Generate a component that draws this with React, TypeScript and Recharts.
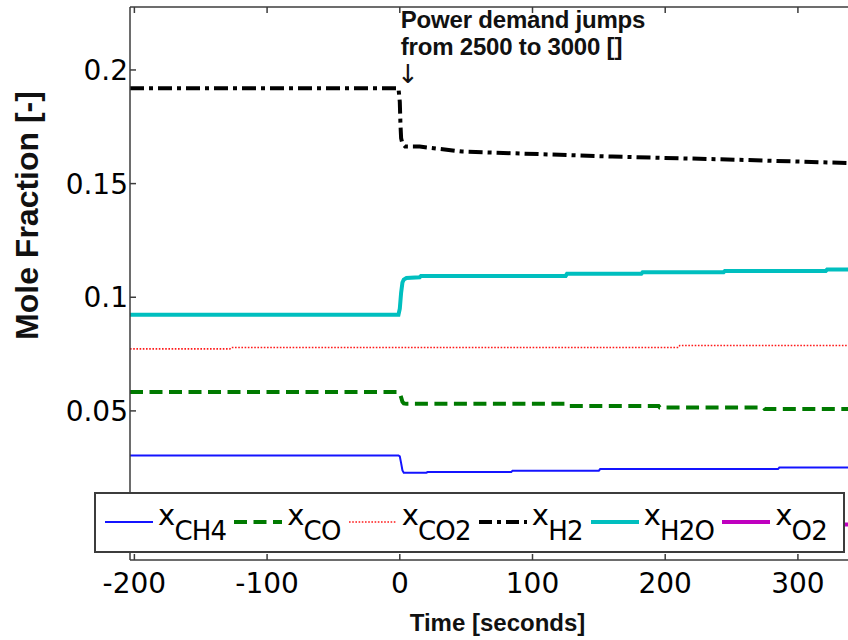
import React from 'react';
import { LineChart, Line, XAxis, YAxis, ReferenceLine, Legend } from 'recharts';

// ---------- data ----------
const ch4T = [-203.3, -1, 0, 1, 2, 3, 20, 21, 84, 85, 150, 151, 285, 286, 340];
const ch4V = [0.0304, 0.0304, 0.03, 0.027, 0.0238, 0.0228, 0.0228, 0.0231, 0.0231, 0.0237, 0.0237, 0.0244, 0.0244, 0.0251, 0.0251];

const coT = [-203.3, -1, 0, 1, 2, 3, 5, 125, 126, 195, 196, 274, 275, 340];
const coV = [0.0583, 0.0583, 0.0578, 0.056, 0.054, 0.0533, 0.0531, 0.0531, 0.0522, 0.0522, 0.0515, 0.0515, 0.0508, 0.0508];

const co2T = [-203.3, -128, -127, 210, 211, 340];
const co2V = [0.0773, 0.0773, 0.0779, 0.0779, 0.0788, 0.0788];

const h2T = [-203.3, -1, 0, 0.5, 1, 2, 4, 15, 47, 160, 260, 340];
const h2V = [0.192, 0.192, 0.186, 0.176, 0.17, 0.1675, 0.1663, 0.1663, 0.1641, 0.1619, 0.1604, 0.159];

const h2oT = [-203.3, -1, 0, 1, 2, 3, 5, 15, 16, 125, 126, 182, 183, 244, 245, 321, 322, 340];
const h2oV = [0.0923, 0.0923, 0.095, 0.102, 0.1065, 0.1078, 0.1085, 0.1088, 0.1094, 0.1094, 0.1103, 0.1103, 0.111, 0.111, 0.1116, 0.1116, 0.1122, 0.1122];

const o2T = [-203.3, 340];
const o2V = [0, 0];

const xTicks = [-200, -100, 0, 100, 200, 300];
const yTicks = [0.05, 0.1, 0.15, 0.2];
const xDomain = [-203.3, 340];
const yDomain = [-0.0156, 0.2277];
const annotationLines = ['Power demand jumps', 'from 2500 to 3000 []'];
const annotationX = 0;
const xLabel = 'Time [seconds]';
const yLabel = 'Mole Fraction [-]';

const toPts = (t: number[], v: number[]) => t.map((x, i) => ({ t: x, v: v[i] }));

type S = { key: string; sub: string; data: { t: number; v: number }[]; color: string; width: number; dash?: string; legendDash?: string };

const series: S[] = [
  { key: 'CH4', sub: 'CH4', data: toPts(ch4T, ch4V), color: '#1414ff', width: 2 },
  { key: 'CO', sub: 'CO', data: toPts(coT, coV), color: '#007a00', width: 4, dash: '13 6.5', legendDash: '13 6.5' },
  { key: 'CO2', sub: 'CO2', data: toPts(co2T, co2V), color: '#ff1a1a', width: 1.6, dash: '1.6 1.6', legendDash: '1.6 1.6' },
  { key: 'H2', sub: 'H2', data: toPts(h2T, h2V), color: '#000000', width: 4, dash: '14 5 4 5', legendDash: '13 5 4 5' },
  { key: 'H2O', sub: 'H2O', data: toPts(h2oT, h2oV), color: '#00bfbf', width: 4 },
  { key: 'O2', sub: 'O2', data: toPts(o2T, o2V), color: '#bf00bf', width: 4 },
];

const axisColor = '#3c3c3c';
const tickFont = { fontFamily: 'DejaVu Sans, sans-serif', fontSize: 28, fill: '#000' };

const LegendBox = () => (
  <div
    style={{
      width: 751,
      height: 61,
      boxSizing: 'border-box',
      border: `2px solid ${axisColor}`,
      background: '#fff',
      display: 'flex',
      alignItems: 'flex-start',
      paddingLeft: 9,
      overflow: 'hidden',
      whiteSpace: 'nowrap',
    }}
  >
    {series.map((s) => (
      <div key={s.key} style={{ display: 'flex', alignItems: 'flex-start', marginRight: 8, flex: 'none' }}>
        <svg width={48} height={57} style={{ display: 'block' }}>
          <line x1={0} x2={48} y1={28} y2={28} stroke={s.color} strokeWidth={s.width} strokeDasharray={s.legendDash} />
        </svg>
        <div
          style={{
            marginLeft: 5,
            fontFamily: 'DejaVu Sans, sans-serif',
            fontSize: 29,
            lineHeight: 1,
            paddingTop: 7,
            color: '#000',
            letterSpacing: -0.8,
          }}
        >
          x<span style={{ fontSize: 26, position: 'relative', top: 15 }}>{s.sub}</span>
        </div>
      </div>
    ))}
  </div>
);

const Annotation = (props: any) => {
  const vb = props.viewBox || {};
  const x = vb.x ?? 0;
  const y = vb.y ?? 0;
  return (
    <g>
      {annotationLines.map((l, i) => (
        <text
          key={i}
          x={x + 1}
          y={y + 21 + i * 27}
          fontFamily="Liberation Sans, Arial, sans-serif"
          fontWeight="bold"
          fontSize={24}
          letterSpacing={-0.2}
          fill="#111"
        >
          {l}
        </text>
      ))}
      <text x={x + 8} y={y + 76} fontFamily="DejaVu Sans, sans-serif" fontSize={26} textAnchor="middle" fill="#111">
        ↓
      </text>
    </g>
  );
};

const YLabel = (props: any) => {
  const vb = props.viewBox || {};
  const cx = (vb.x ?? 0) + 27;
  const cy = (vb.y ?? 0) + (vb.height ?? 0) / 2 - 68;
  return (
    <text
      transform={`translate(${cx},${cy}) rotate(-90)`}
      textAnchor="middle"
      dominantBaseline="central"
      fontFamily="Liberation Sans, Arial, sans-serif"
      fontWeight="bold"
      fontSize={32}
      fill="#111"
    >
      {yLabel}
    </text>
  );
};

const XLabel = (props: any) => {
  const vb = props.viewBox || {};
  const cx = (vb.x ?? 0) + (vb.width ?? 0) / 2 + 7;
  return (
    <text
      x={cx}
      y={631}
      textAnchor="middle"
      fontFamily="Liberation Sans, Arial, sans-serif"
      fontWeight="bold"
      fontSize={24}
      fill="#111"
    >
      {xLabel}
    </text>
  );
};

export default function App() {
  return (
    <div style={{ position: 'absolute', left: 0, top: 0, width: 848, height: 640, overflow: 'hidden', background: '#fff' }}>
      <LineChart width={860} height={640} margin={{ top: 6, right: 9, bottom: 30, left: 0 }}>
        <XAxis
          dataKey="t"
          type="number"
          domain={xDomain}
          ticks={xTicks}
          allowDataOverflow
          height={50}
          tickSize={-6}
          tickMargin={19}
          stroke={axisColor}
          strokeWidth={1.5}
          tick={tickFont}
          label={<XLabel />}
        />
        <XAxis
          xAxisId="top"
          orientation="top"
          dataKey="t"
          type="number"
          domain={xDomain}
          ticks={xTicks}
          allowDataOverflow
          height={1}
          tickSize={-6}
          tickFormatter={() => ''}
          stroke={axisColor}
          strokeWidth={1.5}
        />
        <YAxis
          dataKey="v"
          type="number"
          domain={yDomain}
          ticks={yTicks}
          allowDataOverflow
          width={130}
          tickSize={-6}
          tickMargin={8}
          stroke={axisColor}
          strokeWidth={1.5}
          tick={tickFont}
          label={<YLabel />}
        />
        {series.map((s) => (
          <Line
            key={s.key}
            data={s.data}
            dataKey="v"
            type="linear"
            stroke={s.color}
            strokeWidth={s.width}
            strokeDasharray={s.dash}
            dot={false}
            activeDot={false}
            isAnimationActive={false}
            legendType="line"
            name={s.key}
          />
        ))}
        <ReferenceLine x={annotationX} stroke="none" label={<Annotation />} />
        <Legend
          layout="horizontal"
          verticalAlign="middle"
          align="center"
          content={() => <LegendBox />}
          wrapperStyle={{ left: 94, top: 492, width: 751, height: 61, bottom: 'auto', right: 'auto' }}
        />
      </LineChart>
    </div>
  );
}
